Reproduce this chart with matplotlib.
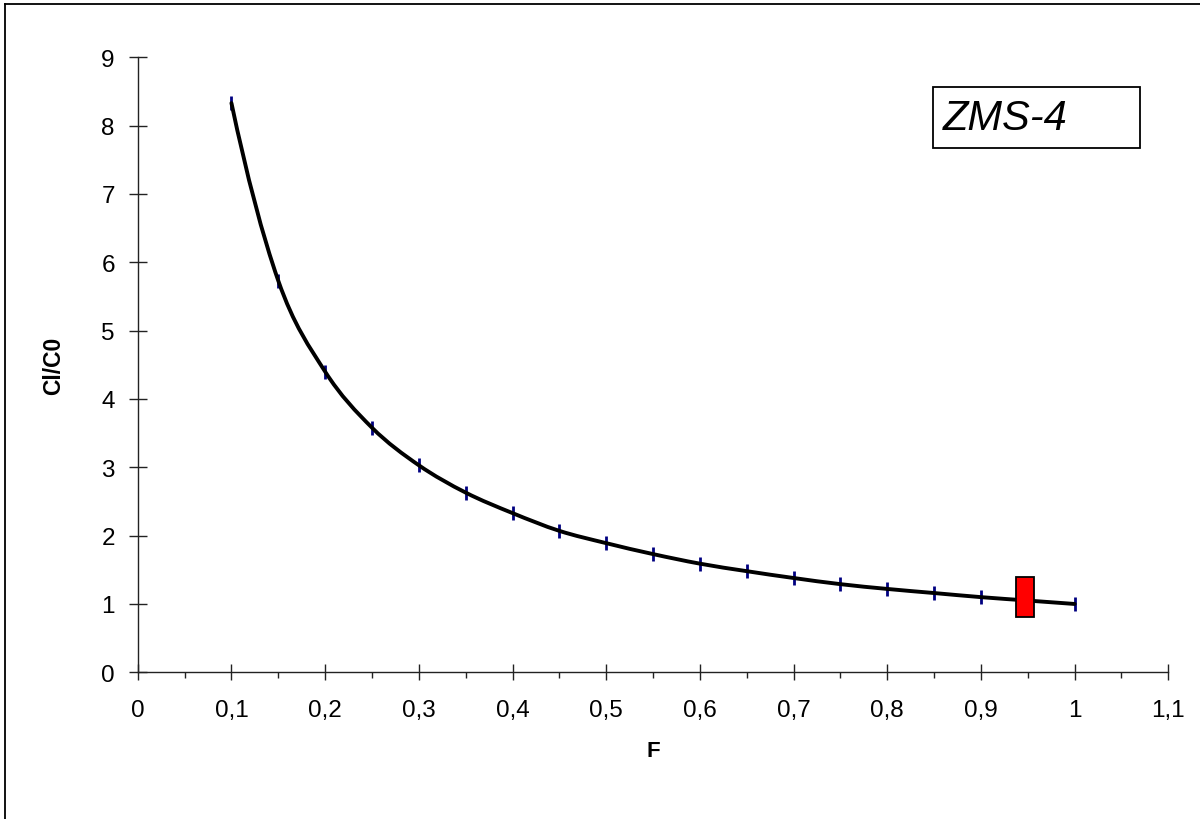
import matplotlib
matplotlib.use("Agg")
import matplotlib.pyplot as plt
import numpy as np
from matplotlib.path import Path
from matplotlib.patches import PathPatch, Rectangle
from matplotlib.ticker import FuncFormatter, MultipleLocator
from matplotlib.lines import Line2D

plt.rcParams['font.family'] = ['Liberation Sans', 'DejaVu Sans']

# Data
F = [0.10, 0.15, 0.20, 0.25, 0.30, 0.35, 0.40, 0.45, 0.50, 0.55,
     0.60, 0.65, 0.70, 0.75, 0.80, 0.85, 0.90, 0.95, 1.00]
CL_C0 = [8.33, 5.73, 4.40, 3.58, 3.03, 2.63, 2.33, 2.07, 1.89, 1.73,
         1.59, 1.48, 1.38, 1.29, 1.22, 1.16, 1.10, 1.05, 1.00]
sample_F = 0.947
sample_low = 0.81
sample_high = 1.39
label_text = "ZMS-4"

fig = plt.figure(figsize=(12, 8.2), dpi=100)
ax = fig.add_axes([0.1148, 0.1789, 0.9736 - 0.1148, 0.9289 - 0.1789])

# smooth curve (cubic Bezier through the data points, like a smoothed line)
P = np.column_stack([F, CL_C0])
n = len(P)
M = np.zeros_like(P)
for i in range(1, n - 1):
    M[i] = (P[i + 1] - P[i - 1]) / 2.0
M[0] = 2 * (P[1] - P[0]) - M[1]
M[-1] = 2 * (P[-1] - P[-2]) - M[-2]
verts = [tuple(P[0])]
codes = [Path.MOVETO]
for i in range(n - 1):
    verts += [tuple(P[i] + M[i] / 3.0), tuple(P[i + 1] - M[i + 1] / 3.0), tuple(P[i + 1])]
    codes += [Path.CURVE4] * 3
ax.add_patch(PathPatch(Path(verts, codes), facecolor='none', edgecolor='black',
                       lw=2.8, zorder=3, capstyle='round', joinstyle='round'))
ax.plot(F, CL_C0, linestyle='none', marker='|', markersize=10,
        markeredgewidth=2.0, color='#000080', zorder=2)

# red sample bar
ax.add_patch(Rectangle((sample_F - 0.0095, sample_low), 0.019, sample_high - sample_low,
                       facecolor='#ff0000', edgecolor='black', lw=1.3, zorder=4))

ax.set_xlim(0, 1.1)
ax.set_ylim(0, 9)
ax.xaxis.set_major_locator(MultipleLocator(0.1))
ax.xaxis.set_minor_locator(MultipleLocator(0.05))
ax.yaxis.set_major_locator(MultipleLocator(1))

def comma(v, pos):
    s = ('%.1f' % v).rstrip('0').rstrip('.')
    return s.replace('.', ',')
ax.xaxis.set_major_formatter(FuncFormatter(comma))
ax.yaxis.set_major_formatter(FuncFormatter(comma))

for s in ['top', 'right']:
    ax.spines[s].set_visible(False)
for s in ['left', 'bottom']:
    ax.spines[s].set_linewidth(1.0)
    ax.spines[s].set_color('#222222')

ax.tick_params(axis='x', which='major', direction='inout', length=12, width=1.0,
               labelsize=17.5, pad=13, color='#222222')
ax.tick_params(axis='x', which='minor', direction='out', length=4.5, width=1.0,
               color='#222222')
ax.tick_params(axis='y', which='major', direction='inout', length=13, width=1.0,
               labelsize=17.5, pad=10, color='#222222')

ax.set_xlabel('F', fontsize=16, fontweight='bold', labelpad=14)
ax.set_ylabel('Cl/C0', fontsize=16.5, fontweight='bold', labelpad=26)

# label box
fig.patches.append(Rectangle((933 / 1200, 1 - 149 / 820), 207 / 1200, 61 / 820,
                             transform=fig.transFigure, figure=fig, facecolor='white',
                             edgecolor='black', lw=1.3, zorder=5))
fig.text(943 / 1200, 1 - 119 / 820, label_text, fontsize=30, fontstyle='italic',
         va='center', ha='left', zorder=6)

# figure frame (left and top edges)
fig.add_artist(Line2D([5 / 1200, 5 / 1200], [0, 1 - 5 / 820], transform=fig.transFigure,
                      color='black', lw=1.3))
fig.add_artist(Line2D([5 / 1200, 1], [1 - 5 / 820, 1 - 5 / 820], transform=fig.transFigure,
                      color='black', lw=1.3))

fig.savefig('out.png', dpi=100)
